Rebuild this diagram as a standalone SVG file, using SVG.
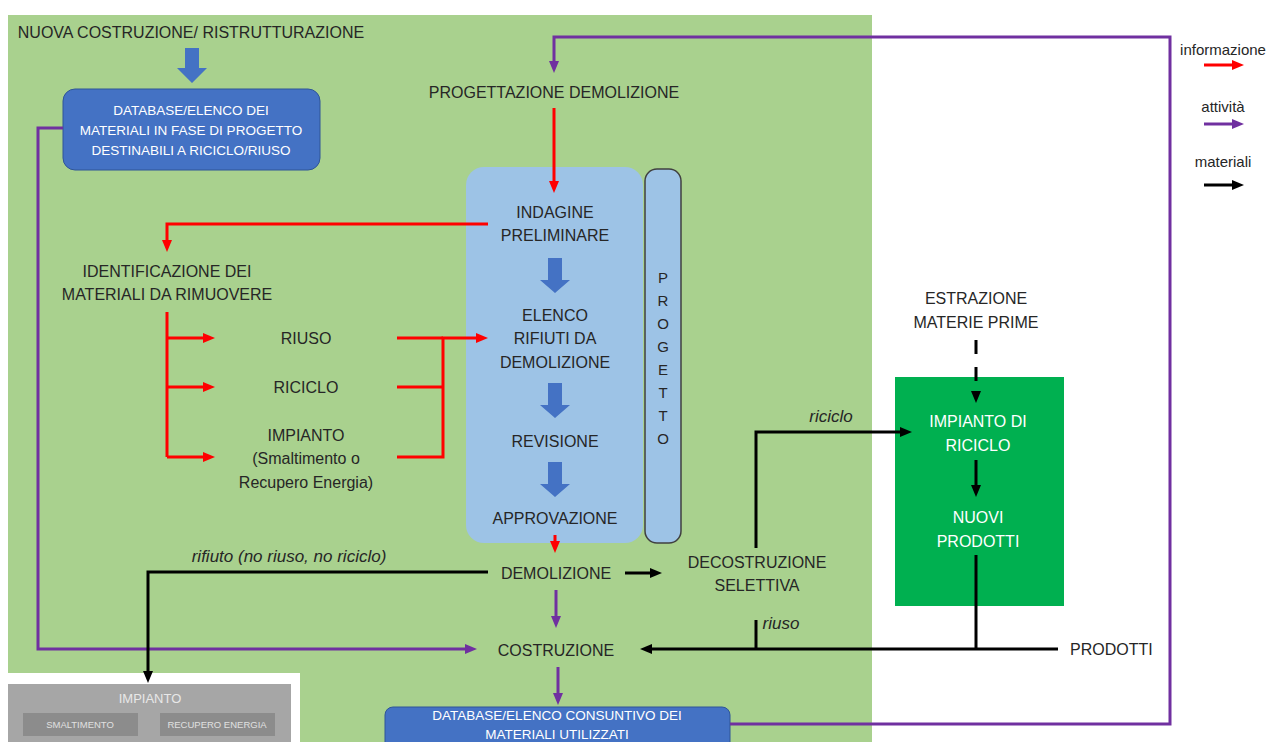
<svg xmlns="http://www.w3.org/2000/svg" width="1269" height="742" viewBox="0 0 1269 742">
<style>
.t{font-family:"Liberation Sans",Arial,sans-serif;font-size:16px;fill:#262626;text-anchor:middle}
.w{fill:#ffffff}
.db{font-size:13.5px}
.it{font-style:italic;font-size:17px}
.lg{font-size:15px}
.r{stroke:#ff0000;stroke-width:3;fill:none}
.p{stroke:#7030a0;stroke-width:3;fill:none}
.k{stroke:#000000;stroke-width:3;fill:none}
.ba{fill:#4472c4}
</style>
<defs>
<marker id="mr" viewBox="0 0 12 10" refX="2" refY="5" markerWidth="12" markerHeight="10" markerUnits="userSpaceOnUse" orient="auto"><path d="M0,0 L12,5 L0,10 z" fill="#ff0000"/></marker>
<marker id="mp" viewBox="0 0 12 10" refX="2" refY="5" markerWidth="12" markerHeight="10" markerUnits="userSpaceOnUse" orient="auto"><path d="M0,0 L12,5 L0,10 z" fill="#7030a0"/></marker>
<marker id="mk" viewBox="0 0 12 10" refX="2" refY="5" markerWidth="12" markerHeight="10" markerUnits="userSpaceOnUse" orient="auto"><path d="M0,0 L12,5 L0,10 z" fill="#000000"/></marker>
</defs>
<rect width="1269" height="742" fill="#ffffff"/>
<rect id="bg" x="8" y="15" width="864" height="727" fill="#a9d18e"/>
<rect x="0" y="673" width="300" height="69" fill="#ffffff"/>

<g id="impianto-box">
<rect x="8" y="684" width="283" height="58" fill="#a6a6a6"/>
<text class="t w" x="150" y="703" style="font-size:13px;fill:#e8e8e8">IMPIANTO</text>
<rect x="23" y="713" width="115" height="23" fill="#8c8c8c"/>
<rect x="160" y="713" width="115" height="23" fill="#8c8c8c"/>
<text class="t" x="80" y="728" style="font-size:9.5px;fill:#e0e0e0">SMALTIMENTO</text>
<text class="t" x="217" y="728" style="font-size:9.5px;fill:#e0e0e0">RECUPERO ENERGIA</text>
</g>

<g id="nuova">
<text class="t" x="191" y="38">NUOVA COSTRUZIONE/ RISTRUTTURAZIONE</text>
<path class="ba" d="M185,48 H199 V68 H207 L192,83 L177,68 H185 Z"/>
</g>

<g id="db1">
<rect x="63" y="89" width="257" height="81" rx="12" fill="#4472c4" stroke="#2f5597" stroke-width="1"/>
<text class="t w db" x="191" y="115">DATABASE/ELENCO DEI</text>
<text class="t w db" x="191" y="135">MATERIALI IN FASE DI PROGETTO</text>
<text class="t w db" x="191" y="155">DESTINABILI A RICICLO/RIUSO</text>
</g>

<g id="progettazione">
<text class="t" x="554" y="98">PROGETTAZIONE DEMOLIZIONE</text>
</g>

<g id="progetto-panel">
<rect x="466" y="167" width="177" height="376" rx="18" fill="#9dc3e6"/>
<text class="t" x="555" y="218">INDAGINE</text>
<text class="t" x="555" y="241">PRELIMINARE</text>
<path class="ba" d="M548,258 H562 V280 H570 L555,293 L540,280 H548 Z"/>
<text class="t" x="555" y="321">ELENCO</text>
<text class="t" x="555" y="344">RIFIUTI DA</text>
<text class="t" x="555" y="368">DEMOLIZIONE</text>
<path class="ba" d="M548,383 H562 V405 H570 L555,418 L540,405 H548 Z"/>
<text class="t" x="555" y="447">REVISIONE</text>
<path class="ba" d="M548,462 H562 V484 H570 L555,497 L540,484 H548 Z"/>
<text class="t" x="555" y="524">APPROVAZIONE</text>
</g>

<g id="progetto">
<rect x="645" y="169" width="36" height="374" rx="12" fill="#9dc3e6" stroke="#404040" stroke-width="1.5"/>
<text class="t" x="663" y="283" style="font-size:15px">P</text>
<text class="t" x="663" y="306" style="font-size:15px">R</text>
<text class="t" x="663" y="329" style="font-size:15px">O</text>
<text class="t" x="663" y="352" style="font-size:15px">G</text>
<text class="t" x="663" y="375" style="font-size:15px">E</text>
<text class="t" x="663" y="398" style="font-size:15px">T</text>
<text class="t" x="663" y="421" style="font-size:15px">T</text>
<text class="t" x="663" y="444" style="font-size:15px">O</text>
</g>

<g id="identificazione">
<text class="t" x="167" y="277">IDENTIFICAZIONE DEI</text>
<text class="t" x="167" y="300">MATERIALI DA RIMUOVERE</text>
</g>
<g id="riuso"><text class="t" x="306" y="344">RIUSO</text></g>
<g id="riciclo"><text class="t" x="306" y="393">RICICLO</text></g>
<g id="impianto">
<text class="t" x="306" y="441">IMPIANTO</text>
<text class="t" x="306" y="464">(Smaltimento o</text>
<text class="t" x="306" y="488">Recupero Energia)</text>
</g>

<g id="demolizione"><text class="t" x="556" y="579">DEMOLIZIONE</text></g>
<g id="decostruzione">
<text class="t" x="757" y="568">DECOSTRUZIONE</text>
<text class="t" x="757" y="591">SELETTIVA</text>
</g>
<g id="costruzione"><text class="t" x="556" y="656">COSTRUZIONE</text></g>
<g id="prodotti"><text class="t" x="1070" y="655" style="text-anchor:start">PRODOTTI</text></g>

<g id="db2">
<rect x="385" y="707" width="345" height="45" rx="8" fill="#4472c4" stroke="#2f5597" stroke-width="1"/>
<text class="t w db" x="557" y="720">DATABASE/ELENCO CONSUNTIVO DEI</text>
<text class="t w db" x="557" y="739">MATERIALI UTILIZZATI</text>
</g>

<g id="estrazione">
<text class="t" x="976" y="304">ESTRAZIONE</text>
<text class="t" x="976" y="328">MATERIE PRIME</text>
</g>

<g id="impianto-riciclo">
<rect x="895" y="377" width="169" height="229" fill="#00b050"/>
<text class="t w" x="978" y="427">IMPIANTO DI</text>
<text class="t w" x="978" y="451">RICICLO</text>
<text class="t w" x="978" y="523">NUOVI</text>
<text class="t w" x="978" y="547">PRODOTTI</text>
</g>

<g id="legend">
<text class="t lg" x="1223" y="55">informazione</text>
<line class="r" x1="1204" y1="65" x2="1234" y2="65" marker-end="url(#mr)"/>
<text class="t lg" x="1223" y="112">attività</text>
<line class="p" x1="1204" y1="124" x2="1234" y2="124" marker-end="url(#mp)"/>
<text class="t lg" x="1223" y="167">materiali</text>
<line class="k" x1="1204" y1="185" x2="1234" y2="185" marker-end="url(#mk)"/>
</g>

<g id="connectors">
<path class="r" d="M554,108 V183" marker-end="url(#mr)"/>
<path class="r" d="M488,224 H167 V242" marker-end="url(#mr)"/>
<path class="r" d="M167,312 V457"/>
<path class="r" d="M167,338 H205" marker-end="url(#mr)"/>
<path class="r" d="M167,387 H205" marker-end="url(#mr)"/>
<path class="r" d="M167,457 H205" marker-end="url(#mr)"/>
<path class="r" d="M397,338 H443"/>
<path class="r" d="M397,387 H443"/>
<path class="r" d="M397,457 H443 V338 H478" marker-end="url(#mr)"/>
<path class="r" d="M555,535 V543" marker-end="url(#mr)"/>

<path class="p" d="M730,724 H1170 V37 H554 V63" marker-end="url(#mp)"/>
<path class="p" d="M63,128 H38 V649 H467" marker-end="url(#mp)"/>
<path class="p" d="M556,590 V618" marker-end="url(#mp)"/>
<path class="p" d="M558,667 V695" marker-end="url(#mp)"/>

<path class="k" d="M488,572 H148 V673" marker-end="url(#mk)"/>
<path class="k" d="M625,573 H652" marker-end="url(#mk)"/>
<path class="k" d="M1058,649 H650" marker-end="url(#mk)"/>
<path class="k" d="M756,620 V649"/>
<path class="k" d="M756,548 V432 H902" marker-end="url(#mk)"/>
<path class="k" d="M976,555 V649"/>
<path class="k" d="M976,460 V487" marker-end="url(#mk)"/>
<path class="k" d="M976,340 V393" stroke-dasharray="14 13" marker-end="url(#mk)"/>
</g>

<g id="labels">
<text class="t it" x="289" y="562">rifiuto (no riuso, no riciclo)</text>
<text class="t it" x="831" y="422">riciclo</text>
<text class="t it" x="781" y="629">riuso</text>
</g>
</svg>
